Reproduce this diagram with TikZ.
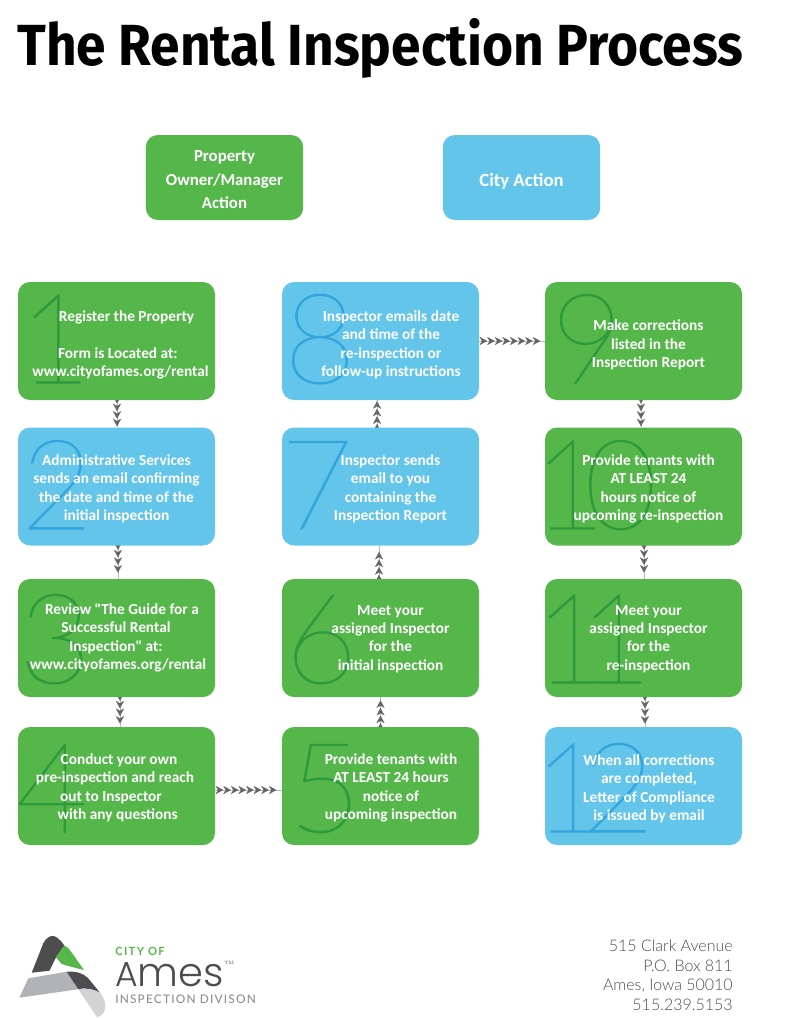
\documentclass[tikz,border=0pt]{standalone}
\usepackage{fontspec}
\newfontfamily\boxfont{Carlito}
\newfontfamily\titlefont{Fira Sans}[UprightFont=* Bold]
\newfontfamily\numfont{Lato}[UprightFont=* Thin, FakeBold=0.8]
\newfontfamily\thinfont{Lato}[UprightFont=* Light]
\newfontfamily\logofont{Poppins}[UprightFont=* Light]
\newfontfamily\logobold{Lato}[UprightFont=* Bold, LetterSpace=12]
\newfontfamily\logomed{Lato}[UprightFont=* Medium, LetterSpace=10]
\usetikzlibrary{arrows.meta, decorations.markings, backgrounds}
\definecolor{ownergreen}{HTML}{55B64A}
\definecolor{numgreen}{HTML}{2E9A3C}
\definecolor{cityblue}{HTML}{63C5EA}
\definecolor{numblue}{HTML}{33A6DE}
\definecolor{arrowgray}{HTML}{636466}
\definecolor{logodark}{HTML}{4D4D4F}
\definecolor{logogray}{HTML}{B1B3B6}
\definecolor{logolight}{HTML}{D1D3D4}
\newcommand{\ind}[1]{\hspace*{#1pt}}
\tikzstyle{owner} = [rectangle, rounded corners=9pt, minimum width=147.75pt, minimum height=88.5pt, fill=ownergreen, inner sep=0pt]
\tikzstyle{city} = [owner, fill=cityblue]
\tikzstyle{legendbox} = [minimum width=118pt, minimum height=63.75pt]
\tikzstyle{boxtext} = [align=center, text=white, inner sep=0pt, font=\fontsize{11.5}{13.8}\boxfont\bfseries]
\tikzstyle{digit} = [anchor=base, inner sep=0pt, text=numgreen, font=\fontsize{94}{94}\numfont]
\tikzstyle{digitcity} = [digit, text=numblue]
\tikzstyle{chain} = [arrowgray!45, line width=0.15pt, postaction={decorate}, decoration={markings, mark=between positions 0.12 and 1 step 5.7pt with {\arrow[arrowgray]{Stealth[length=5.6pt,width=6pt,inset=1.7pt]}}}]
\begin{document}
\begin{tikzpicture}[x=0.75pt, y=-0.75pt]
\useasboundingbox (0,0) rectangle (803,1018);

\node (title) [anchor=base west, inner sep=0pt, font=\fontsize{43.5}{43.5}\titlefont] at (17,65) {\scalebox{0.918}[1]{The Rental Inspection Process}};

% legend
\node (legowner) [owner, legendbox] at (224.5,177.5) {};
\node (legcity) [city, legendbox] at (521.5,177.5) {};
\node (ownertext) [boxtext, font=\fontsize{12.6}{17.6}\boxfont\bfseries] at (224.5,180) {Property\\Owner/Manager\\Action};
\node (citytext) [boxtext, font=\fontsize{14}{17}\boxfont\bfseries] at (521.5,181) {City Action};

% boxes
\node (b1) [owner] at (116.5,341) {};
\node (b2) [city] at (116.5,486.5) {};
\node (b3) [owner] at (116.5,638) {};
\node (b4) [owner] at (116.5,786) {};
\node (b5) [owner] at (380.5,786) {};
\node (b6) [owner] at (380.5,638) {};
\node (b7) [city] at (380.5,486.5) {};
\node (b8) [city] at (380.5,341) {};
\node (b9) [owner] at (643.5,341) {};
\node (b10) [owner] at (643.5,486.5) {};
\node (b11) [owner] at (643.5,638) {};
\node (b12) [city] at (643.5,786) {};

% big numbers
\node (n1) [digit] at (55,383) {1};
\node (n2) [digitcity] at (57,529) {2};
\node (n3) [digit] at (55,683) {3};
\node (n4) [digit] at (52,832) {4};
\node (n5) [digit] at (325,832) {5};
\node (n6) [digit] at (321,683) {6};
\node (n7) [digitcity] at (317,529) {7};
\node (n8) [digitcity] at (320,383) {8};
\node (n9) [digit] at (587,383) {9};
\node (n10) [digit] at (595,529) {1\kern-16pt 0};
\node (n11) [digit] at (593,683) {1\kern-21pt 1};
\node (n12) [digitcity] at (594,832) {1\kern-18pt 2};

% text
\node (t1) [boxtext] at (120.5,345) {\ind{9}Register the Property\\[13.8pt]\ind{-4}Form is Located at:\\www.cityofames.org/rental};
\node (t2) [boxtext] at (116.5,489) {Administrative Services\\sends an email confirming\\the date and time of the\\initial inspection};
\node (t3) [boxtext] at (118,638) {\ind{6}Review "The Guide for a\\\ind{-3}Successful Rental\\\ind{-3}Inspection" at:\\www.cityofames.org/rental};
\node (t4) [boxtext] at (115,788) {\ind{6}Conduct your own\\pre-inspection and reach\\\ind{-6}out to Inspector\\\ind{4}with any questions};
\node (t5) [boxtext] at (391,788) {Provide tenants with\\AT LEAST 24 hours\\notice of\\upcoming inspection};
\node (t6) [boxtext] at (390.5,639) {Meet your\\assigned Inspector\\for the\\initial inspection};
\node (t7) [boxtext] at (390.5,489) {Inspector sends\\email to you\\containing the\\Inspection Report};
\node (t8) [boxtext] at (391,345) {Inspector emails date\\and time of the\\re-inspection or\\follow-up instructions};
\node (t9) [boxtext] at (648.5,345) {Make corrections\\listed in the\\Inspection Report};
\node (t10) [boxtext] at (648.5,489) {Provide tenants with\\AT LEAST 24\\hours notice of\\upcoming re-inspection};
\node (t11) [boxtext] at (648.5,639) {Meet your\\assigned Inspector\\for the\\re-inspection};
\node (t12) [boxtext] at (649,789) {When all corrections\\are completed,\\Letter of Compliance\\is issued by email};

% connectors
\begin{scope}[on background layer]
\draw [chain] ([xshift=0.4pt]b1.south) -- ([xshift=0.4pt]b2.north);
\draw [chain] ([xshift=1.1pt]b2.south) -- ([xshift=1.1pt]b3.north);
\draw [chain] ([xshift=2.6pt]b3.south) -- ([xshift=2.6pt]b4.north);
\draw [chain] ([yshift=-3pt]b4.east) -- ([yshift=-3pt]b5.west);
\draw [chain] (b5.north) -- (b6.south);
\draw [chain] ([xshift=-1.1pt]b6.north) -- ([xshift=-1.1pt]b7.south);
\draw [chain] ([xshift=-2.6pt]b7.north) -- ([xshift=-2.6pt]b8.south);
\draw [chain] (b8.east) -- (b9.west);
\draw [chain] ([xshift=-1.9pt]b9.south) -- ([xshift=-1.9pt]b10.north);
\draw [chain] ([xshift=0.4pt]b10.south) -- ([xshift=0.4pt]b11.north);
\draw [chain] ([xshift=1.1pt]b11.south) -- ([xshift=1.1pt]b12.north);
\end{scope}

% logo
\fill [logodark] (31.7,972.7) -- (43.3,943.3) .. controls (47,936) and (53,934) .. (57,937.5) .. controls (60,939.5) and (62,942) .. (64.3,945.7) -- (56,957.3) -- (49.5,970.7) -- cycle;
\fill [ownergreen] (64.3,945.7) .. controls (68,947) and (70,950) .. (72,953) -- (84,970) .. controls (76,968) and (68,966) .. (61.7,964) -- (56,957.3) -- cycle;
\fill [logogray] (19.3,997.7) -- (28.3,978.3) -- (66.7,971.7) -- (78.3,989.3) -- cycle;
\fill [logodark] (66.7,971.7) .. controls (75,971) and (83,973) .. (88,978) -- (100,992.7) .. controls (93,989) and (85,987.5) .. (78.3,989.3) -- cycle;
\fill [logolight] (78.3,989.3) .. controls (85,987.5) and (93,989) .. (100,992.7) .. controls (105,999) and (107,1006) .. (104,1012) .. controls (102,1015) and (100,1016.5) .. (97.3,1017.3) -- cycle;

\node (cityof) [anchor=base west, inner sep=0pt, text=ownergreen, font=\fontsize{8.4}{8.4}\logobold] at (115,955) {CITY OF};
\node (ames) [anchor=base west, inner sep=0pt, text=logodark, font=\logofont] at (115,986) {{\fontsize{26}{26}\selectfont A}{\fontsize{30}{30}\selectfont mes}};
\node (tm) [anchor=base west, inner sep=0pt, text=logodark, font=\fontsize{3.5}{3.5}\selectfont] at (224,964) {TM};
\node (division) [anchor=base west, inner sep=0pt, text=logogray!80!black, font=\fontsize{8.9}{8.9}\logomed] at (115,1003) {INSPECTION DIVISON};

\node (address) [anchor=north east, align=right, inner sep=0pt, text=logodark, font=\fontsize{12}{14.7}\thinfont] at (733,939.5) {515 Clark Avenue\\P.O. Box 811\\Ames, Iowa 50010\\515.239.5153};

\end{tikzpicture}
\end{document}
